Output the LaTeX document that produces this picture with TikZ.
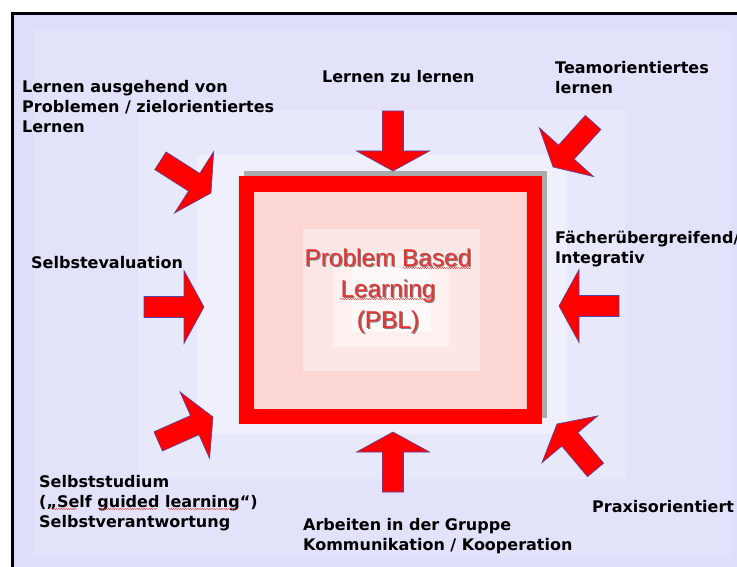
\documentclass[tikz,border=0pt]{standalone}
\usepackage{fontspec}
\newfontfamily\labfont{DejaVu Sans}
\newfontfamily\pblfont{Liberation Sans}
\usetikzlibrary{decorations.pathmorphing}
\definecolor{bgzero}{RGB}{222,222,250}
\definecolor{bgone}{RGB}{226,226,251}
\definecolor{bgtwo}{RGB}{232,232,251}
\definecolor{bgthree}{RGB}{240,240,253}
\definecolor{shadowgray}{RGB}{170,170,170}
\definecolor{pinkone}{RGB}{252,213,213}
\definecolor{pinktwo}{RGB}{253,230,230}
\definecolor{pinkthree}{RGB}{255,240,240}
\definecolor{pinkfour}{RGB}{255,248,248}
\definecolor{pblred}{RGB}{232,50,50}
\definecolor{arrowline}{RGB}{80,70,170}
\definecolor{squigred}{RGB}{235,70,70}
\newcommand\labstrut{\rule{0pt}{14pt}}
\newcommand\pblstrut{\rule{0pt}{22pt}}
\tikzset{
  arr/.style={fill=red, draw=arrowline, line width=0.6pt, line join=miter},
  blockarrow/.pic={\filldraw[arr] (0,0) -- (-20,36.5) -- (-20,10.5) -- (-60,10.5) -- (-60,-10.5) -- (-20,-10.5) -- (-20,-36.5) -- cycle;},
  lab/.style={anchor=north west, inner sep=0pt, align=left, text=black,
    font={\labfont\bfseries\fontsize{16}{20}\selectfont}},
  pbl/.style={anchor=north, inner sep=0pt, align=center,
    font={\pblfont\fontsize{24.4}{31}\selectfont}},
  squig/.style={draw=squigred, line width=0.4pt, decorate,
    decoration={snake, amplitude=0.7pt, segment length=2.4pt}},
}
\begin{document}
\begin{tikzpicture}[x=1pt,y=-1pt]
\useasboundingbox (0,0) rectangle (737,567);
\fill[white] (0,0) rectangle (737,567);
% background layers
\filldraw[fill=bgzero, draw=black, line width=3pt] (12.5,13.5) rectangle (760,590);
\fill[bgone] (33,30) rectangle (732,558);
\fill[bgtwo] (138,110) rectangle (625,479);
\fill[bgthree] (197,155) rectangle (567,434);
% central box
\fill[shadowgray] (244,171) rectangle (547,418);
\fill[red] (239,176) rectangle (542,424);
\fill[pinkone] (254,192) rectangle (527,409);
\fill[pinktwo] (303,229) rectangle (480,371);
\fill[pinkthree] (333,252) rectangle (449,347);
\fill[pinkfour] (352,268) rectangle (431,332);
% PBL text
\node[pbl, text=gray] (pblshadow) at (389.3,245.3) {\pblstrut Problem Based\\Learning\\(PBL)};
\node[pbl, text=pblred] (pbl) at (388,244) {\pblstrut Problem Based\\Learning\\(PBL)};
\draw[squig] (403,268) -- (471,268);
\draw[squig] (340,299) -- (435,299);
% arrows
\pic (atop) at (393,171) [rotate=-90] {blockarrow};
\pic (abottom) at (393,432) [rotate=90] {blockarrow};
\pic (aleft) at (204,307) {blockarrow};
\pic (aright) at (559,306) [rotate=180] {blockarrow};
\pic (atl) at (211,193) [rotate=-32.5] {blockarrow};
\pic (atr) at (553,167) [rotate=228] {blockarrow};
\pic (abl) at (213,417) [rotate=24] {blockarrow};
\pic (abr) at (557,424) [rotate=130] {blockarrow};
% labels
\node[lab] (lone) at (22,78) {\labstrut Lernen ausgehend von\\Problemen / zielorientiertes\\Lernen};
\node[lab] (ltwo) at (322,68) {\labstrut Lernen zu lernen};
\node[lab] (lthree) at (555,59) {\labstrut Teamorientiertes\\lernen};
\node[lab] (lfour) at (31,254) {\labstrut Selbstevaluation};
\node[lab] (lfive) at (555,229) {\labstrut Fächerübergreifend/\\Integrativ};
\node[lab] (lsix) at (39,473) {\labstrut Selbststudium\\(„Self guided learning“)\\Selbstverantwortung};
\node[lab] (lseven) at (303,516) {\labstrut Arbeiten in der Gruppe\\Kommunikation / Kooperation};
\node[lab] (leight) at (592,498) {\labstrut Praxisorientiert};
\draw[squig] (51,509) -- (77,509);
\draw[squig] (98,509) -- (158,509);
\draw[squig] (168,509) -- (237,509);
\end{tikzpicture}
\end{document}
